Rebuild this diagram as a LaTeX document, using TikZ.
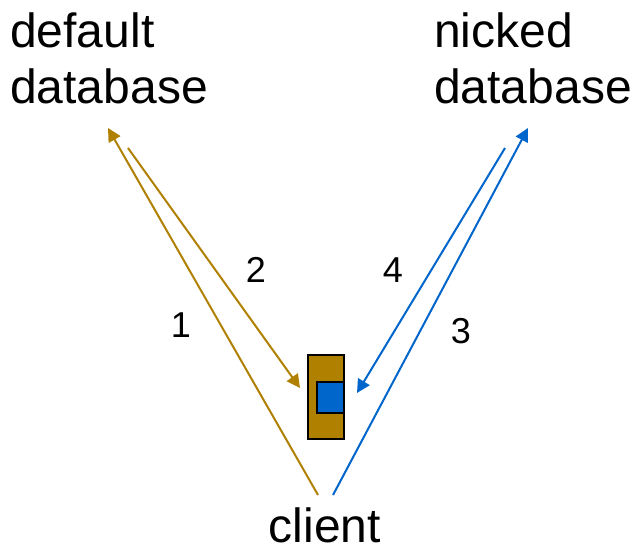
\documentclass[tikz,border=0pt]{standalone}
\usepackage{fontspec}
\setmainfont{Liberation Sans}
\usetikzlibrary{arrows.meta}
\definecolor{dbgold}{RGB}{176,128,0}
\definecolor{dbblue}{RGB}{0,102,204}
\newcommand{\drawarrow}{\draw[line width=1.5pt, -{Triangle[length=10pt, width=10pt]}]}
\tikzset{
    bigtext/.style={font=\fontsize{36}{42}\selectfont, inner sep=0pt},
    steplabel/.style={font=\fontsize{27}{32}\selectfont, inner sep=0pt}
}

\begin{document}
\begin{tikzpicture}[x=0.75pt, y=-0.75pt]
    \useasboundingbox (0,0) rectangle (634,548);

    % Draw labels
    \node[bigtext, anchor=north west, align=left] (default) at (10,12) {default\\database};
    \node[bigtext, anchor=north west, align=left] (nicked) at (434,12) {nicked\\database};
    \node[bigtext] (client) at (325,525) {client};

    % Draw client box
    \node[draw, line width=1pt, fill=dbgold, minimum width=27pt, minimum height=63pt, inner sep=0pt] (outer) at (326,397) {};
    \node[draw, line width=1pt, fill=dbblue, minimum width=20.25pt, minimum height=23.25pt, inner sep=0pt] (inner) at (330.5,397.5) {};

    % Draw end points
    \coordinate (c1) at (318,495);
    \coordinate (c3) at (333,495);
    \coordinate (d1) at (108,128);
    \coordinate (d2) at (128,148);
    \coordinate (n3) at (528,128);
    \coordinate (n4) at (505,148);
    \coordinate (b2) at (300,388);
    \coordinate (b4) at (357,393);

    % Draw requests
    \drawarrow[dbgold] (c1) -- (d1);
    \drawarrow[dbgold] (d2) -- (b2);
    \drawarrow[dbblue] (c3) -- (n3);
    \drawarrow[dbblue] (n4) -- (b4);

    \node[steplabel] (l1) at (181,325) {1};
    \node[steplabel] (l2) at (256,270) {2};
    \node[steplabel] (l3) at (461,331) {3};
    \node[steplabel] (l4) at (393,270) {4};
\end{tikzpicture}
\end{document}
